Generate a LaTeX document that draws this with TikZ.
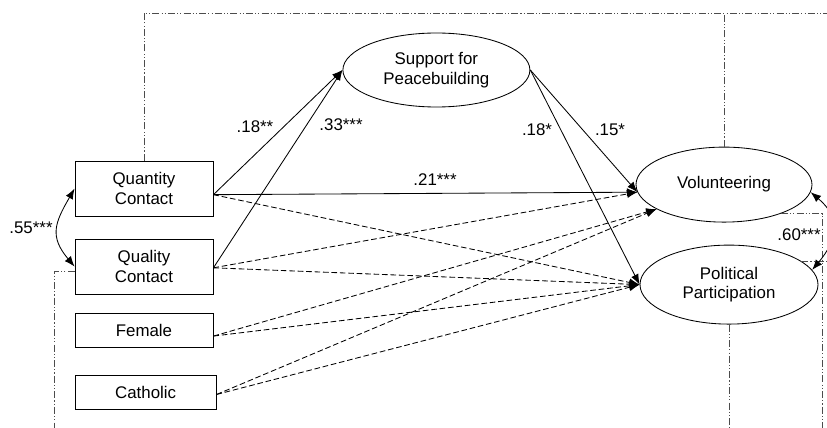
\documentclass[tikz,border=0pt]{standalone}
\usepackage{fontspec}
\setmainfont{Liberation Sans}
\usepackage{tikz}
\usetikzlibrary{arrows.meta}
\usetikzlibrary{shapes.geometric}
\tikzstyle{obs} = [draw,rectangle,line width=0.6pt,minimum width=3.45cm,minimum height=1.375cm,align=center,font=\fontsize{12}{14}\selectfont]
\tikzstyle{lat} = [draw,ellipse,line width=0.6pt,align=center,font=\fontsize{12}{14}\selectfont]
\tikzstyle{sig} = [-{Latex[length=2.6mm,width=2mm]},line width=0.6pt]
\tikzstyle{nsig} = [sig,dash pattern=on 4pt off 2pt]
\tikzstyle{cov} = [{Latex[length=2.6mm,width=2mm]}-{Latex[length=2.6mm,width=2mm]},line width=0.6pt]
\tikzstyle{resid} = [gray!60!black,line width=0.5pt,dash pattern=on 5pt off 1.5pt on 0.8pt off 1.5pt on 0.8pt off 1.5pt]
\tikzstyle{coef} = [inner sep=0pt,font=\fontsize{12}{14}\selectfont]

\begin{document}
\begin{tikzpicture}
\useasboundingbox (0,0) rectangle (20.675,10.675);
\clip (0,0) rectangle (20.675,10.675);

\draw(3.6,5.96) node[obs] (qnt) {Quantity\\Contact};
\draw(3.6,4.01) node[obs] (qlt) {Quality\\Contact};
\draw(3.6,2.425) node[obs,minimum height=0.85cm] (fem) {Female};
\draw(3.64,0.875) node[obs,minimum width=3.525cm,minimum height=0.85cm] (cat) {Catholic};

\draw(10.91,8.925) node[lat,minimum width=4.675cm,minimum height=1.85cm] (sup) {Support for\\Peacebuilding};
\draw(18.1,6.06) node[lat,minimum width=4.4cm,minimum height=1.875cm] (vol) {Volunteering};
\draw(18.225,3.56) node[lat,minimum width=4.45cm,minimum height=1.975cm] (pol) {Political\\Participation};

% residual / outer frame lines
\coordinate (topend) at (20.8,10.35);
\coordinate (leftend) at (1.35,-0.1);
\coordinate (rightend) at (20.55,-0.1);
\coordinate (edgeR) at (20.8,0);
\draw[resid] (qnt.north) |- (topend);
\draw[resid] (vol.north) -- (vol.north |- topend);
\draw[resid] (qlt.184) -| (leftend);
\draw[resid] (pol.south) -- (pol.south |- leftend);
\draw[resid] (vol.-27) -| (rightend);
\draw[resid] (pol.18) -- (pol.18 -| edgeR);

% significant paths
\draw[sig] (qnt.-5) -- (sup.west);
\draw[sig] (qlt.-1.5) -- (sup.west);
\draw[sig] (qnt.-5) -- (vol.185);
\draw[sig] (sup.east) -- (vol.185);
\draw[sig] (sup.east) -- (pol.west);

% non-significant paths
\draw[nsig] (qnt.-5) -- (pol.west);
\draw[nsig] (qlt.-1.5) -- (vol.185);
\draw[nsig] (qlt.-1.5) -- (pol.west);
\draw[nsig] (fem.-5) -- (vol.200);
\draw[nsig] (fem.-5) -- (pol.west);
\draw[nsig] (cat.-2) -- (vol.200);
\draw[nsig] (cat.-2) -- (pol.west);

% covariances
\draw[cov] (qnt.west) to[out=240,in=130,looseness=1.3] (qlt.west);
\draw[cov] (vol.-5) to[out=-40,in=50,looseness=1.3] (pol.10);

\draw(6.375,7.5) node[coef] (b1) {.18**};
\draw(8.525,7.55) node[coef] (b2) {.33***};
\draw(10.875,6.175) node[coef] (b3) {.21***};
\draw(13.425,7.425) node[coef] (b4) {.18*};
\draw(15.25,7.425) node[coef] (b5) {.15*};
\draw(0.775,4.975) node[coef] (r1) {.55***};
\draw(19.975,4.8) node[coef] (r2) {.60***};

\end{tikzpicture}
\end{document}
